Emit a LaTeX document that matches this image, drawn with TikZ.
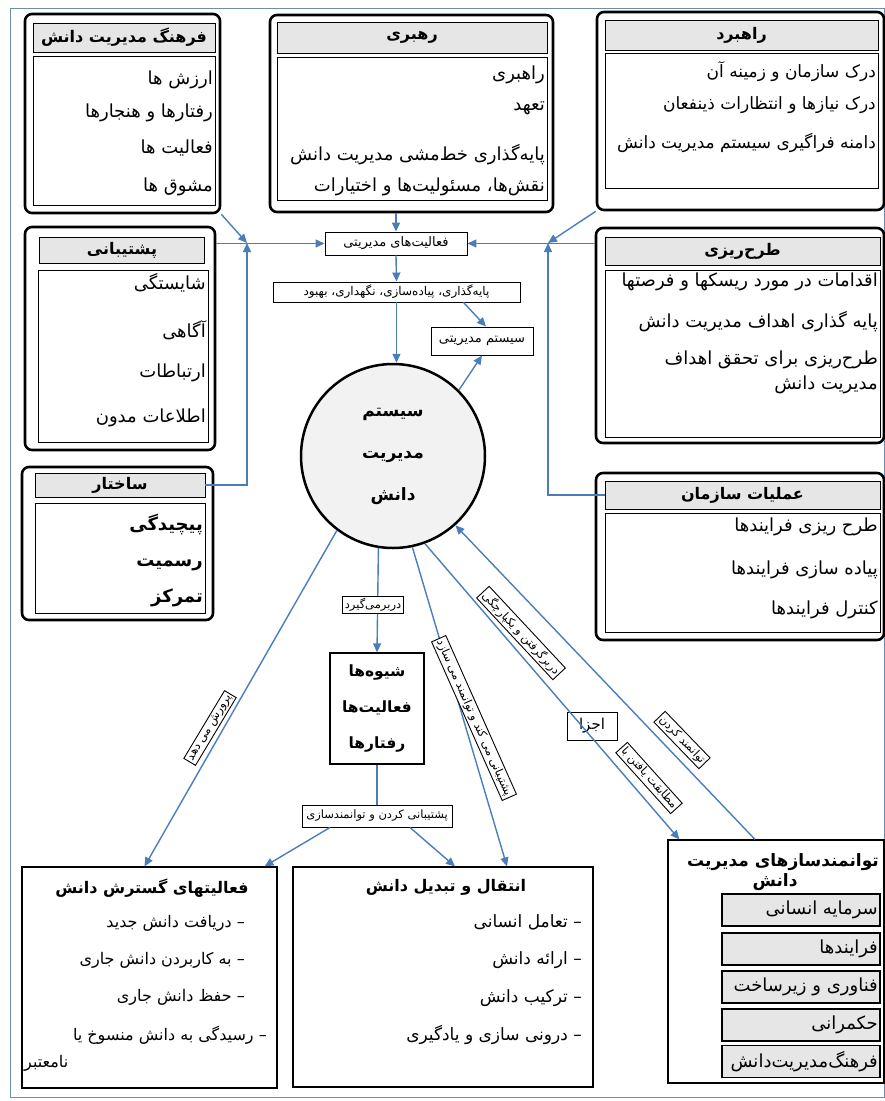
\documentclass[tikz,border=0pt]{standalone}
\usepackage{fontspec}
\newfontfamily\farsi[Script=Arabic]{DejaVu Sans}
\usetikzlibrary{arrows.meta}
\TeXXeTstate=1
\newcommand{\fa}[1]{\beginR #1\endR}
\definecolor{arrowblue}{RGB}{74,126,187}
\definecolor{framegray}{RGB}{110,140,175}
\definecolor{headgray}{RGB}{230,230,230}
\definecolor{circgray}{RGB}{242,242,242}

\begin{document}
\begin{tikzpicture}[x=1pt,y=-1pt,
  flow/.style={draw=arrowblue,line width=1.4pt,-{Triangle[length=9pt,width=8pt]}},
  link/.style={draw=arrowblue,line width=1.4pt},
  outerbox/.style={draw,line width=2.6pt,rounded corners=7pt,inner sep=0pt},
  headbox/.style={draw,line width=0.9pt,fill=headgray,inner sep=0pt,font=\farsi\bfseries\fontsize{16}{18}\selectfont},
  bodybox/.style={draw,line width=0.9pt,inner sep=0pt},
  item/.style={anchor=east,inner sep=1pt,font=\farsi\fontsize{18}{20}\selectfont},
  lowitem/.style={anchor=east,inner sep=1pt,font=\farsi\fontsize{16}{18}\selectfont},
  smallbox/.style={draw,line width=0.9pt,fill=white,inner sep=1pt,font=\farsi\fontsize{13}{15}\selectfont},
  tag/.style={draw,line width=0.9pt,fill=white,inner sep=2pt,font=\farsi\fontsize{11.5}{13}\selectfont},
  bigbox/.style={draw,line width=1.2pt,inner sep=0pt},
  title/.style={inner sep=1pt,font=\farsi\bfseries\fontsize{16}{18}\selectfont},
  subbox/.style={draw,line width=1.2pt,fill=headgray,inner sep=0pt,minimum width=158,minimum height=32}
]
\useasboundingbox (0,0) rectangle (885,1101);
\draw[framegray,line width=0.8pt] (10,8) rectangle (884,1097);

\node[outerbox,minimum width=195,minimum height=199] (cultureO) at (122.5,113.5) {};
\node[headbox,minimum width=182,minimum height=29] (cultureH) at (124,37.5) {\fa{فرهنگ مدیریت دانش}};
\node[bodybox,minimum width=182,minimum height=149] (cultureB) at (124,130.5) {};
\node[item] (culture1) at (214,80) {\fa{ارزش ها}};
\node[item] (culture2) at (214,113) {\fa{رفتارها و هنجارها}};
\node[item] (culture3) at (214,148) {\fa{فعالیت ها}};
\node[item] (culture4) at (214,187) {\fa{مشوق ها}};

\node[outerbox,minimum width=283,minimum height=197] (leadO) at (411.5,113.5) {};
\node[headbox,minimum width=270,minimum height=31] (leadH) at (412,37.5) {\fa{رهبری}};
\node[bodybox,minimum width=270,minimum height=143] (leadB) at (412,128.5) {};
\node[item] (lead1) at (546,75) {\fa{راهبری}};
\node[item] (lead2) at (546,108) {\fa{تعهد}};
\node[item] (lead3) at (546,155) {\fa{پایه^^^^200cگذاری خط^^^^200cمشی مدیریت دانش}};
\node[item] (lead4) at (546,187) {\fa{نقش^^^^200cها، مسئولیت^^^^200cها و اختیارات}};

\node[outerbox,minimum width=287,minimum height=198] (stratO) at (740.5,111) {};
\node[headbox,minimum width=273,minimum height=30] (stratH) at (741.5,35) {\fa{راهبرد}};
\node[bodybox,minimum width=273,minimum height=135] (stratB) at (741.5,120.5) {};
\node[item,font=\farsi\fontsize{17}{19}\selectfont] (strat1) at (877,72) {\fa{درک سازمان و زمینه آن}};
\node[item,font=\farsi\fontsize{17}{19}\selectfont] (strat2) at (877,105) {\fa{درک نیازها و انتظارات ذینفعان}};
\node[item,font=\farsi\fontsize{17}{19}\selectfont] (strat3) at (877,143) {\fa{دامنه فراگیری سیستم مدیریت دانش}};

\node[outerbox,minimum width=190,minimum height=223] (supportO) at (120,338.5) {};
\node[headbox,minimum width=165,minimum height=26] (supportH) at (122,250) {\fa{پشتیبانی}};
\node[bodybox,minimum width=170,minimum height=172] (supportB) at (123,356) {};
\node[item] (support1) at (207,283) {\fa{شایستگی}};
\node[item] (support2) at (207,330) {\fa{آگاهی}};
\node[item] (support3) at (207,373) {\fa{ارتباطات}};
\node[item] (support4) at (207,418) {\fa{اطلاعات مدون}};

\node[outerbox,minimum width=191,minimum height=153] (structO) at (117.5,543.5) {};
\node[headbox,minimum width=170,minimum height=24] (structH) at (120,485) {\fa{ساختار}};
\node[bodybox,minimum width=170,minimum height=110] (structB) at (120,558) {};
\node[item] (struct1) at (204,525) {\fa{\bfseries پیچیدگی}};
\node[item] (struct2) at (204,565) {\fa{\bfseries رسمیت}};
\node[item] (struct3) at (204,598) {\fa{\bfseries تمرکز}};

\node[outerbox,minimum width=288,minimum height=215] (planO) at (740,335.5) {};
\node[headbox,minimum width=275,minimum height=28] (planH) at (742.5,251) {\fa{طرح^^^^200cریزی}};
\node[bodybox,minimum width=275,minimum height=167] (planB) at (742.5,353.5) {};
\node[item] (plan1) at (879,282) {\fa{اقدامات در مورد ریسکها و فرصتها}};
\node[item] (plan2) at (879,322) {\fa{پایه گذاری اهداف مدیریت دانش}};
\node[item] (plan3) at (879,360) {\fa{طرح^^^^200cریزی برای تحقق اهداف}};
\node[item] (plan4) at (879,385) {\fa{مدیریت دانش}};

\node[outerbox,minimum width=288,minimum height=167] (opsO) at (740,556.5) {};
\node[headbox,minimum width=275,minimum height=28] (opsH) at (742.5,495) {\fa{عملیات سازمان}};
\node[bodybox,minimum width=275,minimum height=119] (opsB) at (742.5,572.5) {};
\node[item] (ops1) at (879,527) {\fa{طرح ریزی فرایندها}};
\node[item] (ops2) at (879,570) {\fa{پیاده سازی فرایندها}};
\node[item] (ops3) at (879,610) {\fa{کنترل فرایندها}};

\node[smallbox,minimum width=142,minimum height=23] (mact) at (396,243.5) {\fa{فعالیت^^^^200cهای مدیریتی}};
\node[smallbox,minimum width=247,minimum height=20,font=\farsi\fontsize{12}{14}\selectfont] (estab) at (396.5,292) {\fa{پایه^^^^200cگذاری، پیاده^^^^200cسازی، نگهداری، بهبود}};
\node[smallbox,minimum width=102,minimum height=28] (msys) at (482,341) {\fa{سیستم مدیریتی}};

\node[circle,draw,line width=2.5pt,fill=circgray,minimum size=184,align=center,
  font=\farsi\bfseries\fontsize{17}{42}\selectfont] (kms) at (393,456) {\fa{سیستم}\\\fa{مدیریت}\\\fa{دانش}};

\node[bigbox,minimum width=94,minimum height=111,align=center,
  font=\farsi\bfseries\fontsize{15.5}{36}\selectfont] (ways) at (377,708.5) {\fa{شیوه^^^^200cها}\\\fa{فعالیت^^^^200cها}\\\fa{رفتارها}};
\node[smallbox,minimum width=150,minimum height=22,font=\farsi\fontsize{11.5}{13}\selectfont] (sup) at (377,816) {\fa{پشتیبانی کردن و توانمندسازی}};

\node[bigbox,minimum width=255,minimum height=221] (ext) at (149.5,977.5) {};
\node[title] (extT) at (152,888) {\fa{فعالیتهای گسترش دانش}};
\node[lowitem] (ext1) at (246,923) {\fa{– دریافت دانش جدید}};
\node[lowitem] (ext2) at (246,960) {\fa{– به کاربردن دانش جاری}};
\node[lowitem] (ext3) at (246,997) {\fa{– حفظ دانش جاری}};
\node[lowitem] (ext4) at (268,1035) {\fa{– رسیدگی به دانش منسوخ یا}};
\node[lowitem,anchor=west] (ext5) at (23,1063) {\fa{نامعتبر}};

\node[bigbox,minimum width=300,minimum height=220] (trans) at (443,977) {};
\node[title] (transT) at (446,887) {\fa{انتقال و تبدیل دانش}};
\node[lowitem,font=\farsi\fontsize{17}{19}\selectfont] (trans1) at (583,922) {\fa{– تعامل انسانی}};
\node[lowitem,font=\farsi\fontsize{17}{19}\selectfont] (trans2) at (583,960) {\fa{– ارائه دانش}};
\node[lowitem,font=\farsi\fontsize{17}{19}\selectfont] (trans3) at (583,998) {\fa{– ترکیب دانش}};
\node[lowitem,font=\farsi\fontsize{17}{19}\selectfont] (trans4) at (583,1035) {\fa{– درونی سازی و یادگیری}};

\node[bigbox,minimum width=216,minimum height=243] (enab) at (776,961.5) {};
\node[title,font=\farsi\bfseries\fontsize{17}{19}\selectfont] (enabT1) at (783,862) {\fa{توانمندسازهای مدیریت}};
\node[title,font=\farsi\bfseries\fontsize{17}{19}\selectfont] (enabT2) at (775,882) {\fa{دانش}};
\node[subbox] (enab1) at (801,910) {};
\node[lowitem,font=\farsi\fontsize{18}{20}\selectfont] (enab1t) at (879,910) {\fa{سرمایه انسانی}};
\node[subbox] (enab2) at (801,949) {};
\node[lowitem,font=\farsi\fontsize{18}{20}\selectfont] (enab2t) at (879,949) {\fa{فرایندها}};
\node[subbox] (enab3) at (801,987) {};
\node[lowitem,font=\farsi\fontsize{18}{20}\selectfont] (enab3t) at (879,987) {\fa{فناوری و زیرساخت}};
\node[subbox] (enab4) at (801,1025) {};
\node[lowitem,font=\farsi\fontsize{18}{20}\selectfont] (enab4t) at (879,1025) {\fa{حکمرانی}};
\node[subbox] (enab5) at (801,1061.5) {};
\node[lowitem,font=\farsi\fontsize{18}{20}\selectfont] (enab5t) at (879,1061.5) {\fa{فرهنگ^^^^200cمدیریت^^^^200cدانش}};

\node[draw,line width=0.9pt,minimum width=50,minimum height=28,inner sep=0pt,
  font=\farsi\fontsize{15}{17}\selectfont] (ajza) at (592,726) {\fa{اجزا}};

\coordinate (jl) at (247,243);
\coordinate (jr) at (548,243);

\draw[flow] (mact.north |- leadO.south) -- (mact.north);
\draw[flow] (cultureO.south east) -- (jl);
\draw[flow] (supportO.east |- mact.west) -- (mact.west);
\draw[flow] (structH.east) -| (jl);
\draw[flow] (stratO.south west) -- (jr);
\draw[flow] (planO.west |- mact.east) -- (mact.east);
\draw[flow] (opsH.west) -| (jr);
\draw[flow] (mact.south) -- (estab.north);
\draw[flow] (estab.south) -- (estab.south |- kms.north);
\draw[flow] ([xshift=67pt]estab.south) -- ([xshift=4pt]msys.north);
\draw[flow] (kms.45) -- (msys.south);

\draw[flow] (kms.261) -- (ways.north);
\draw[link] (ways.south) -- (sup.north);
\draw[flow] ([xshift=-47pt]sup.south) -- ([xshift=115pt]ext.north);
\draw[flow] ([xshift=33pt]sup.south) -- ([xshift=12pt]trans.north);
\draw[flow] (kms.233) -- ([xshift=-5pt]ext.north);
\draw[flow] (kms.282) -- ([xshift=64pt]trans.north);
\draw[flow] (kms.290) -- ([xshift=12pt]enab.north west);
\draw[flow] (enab.north -| 755,0) -- (kms.312);

\node[tag] (ambr) at (373,605) {\fa{دربرمی^^^^200cگیرد}};
\node[tag,rotate=59] (pror) at (210,728) {\fa{پرورش می دهد}};
\node[tag,rotate=-66] (psup) at (474,718) {\fa{پشتیبانی می کند و توانمند می سازد}};
\node[tag,rotate=-47] (dbr) at (521,633) {\fa{دربرگرفتن و یکپارچگی}};
\node[tag,rotate=-48] (mtb) at (649,778) {\fa{مطابقت یافتن با}};
\node[tag,rotate=-46] (tvk) at (682,740) {\fa{توانمند کردن}};

\end{tikzpicture}
\end{document}
